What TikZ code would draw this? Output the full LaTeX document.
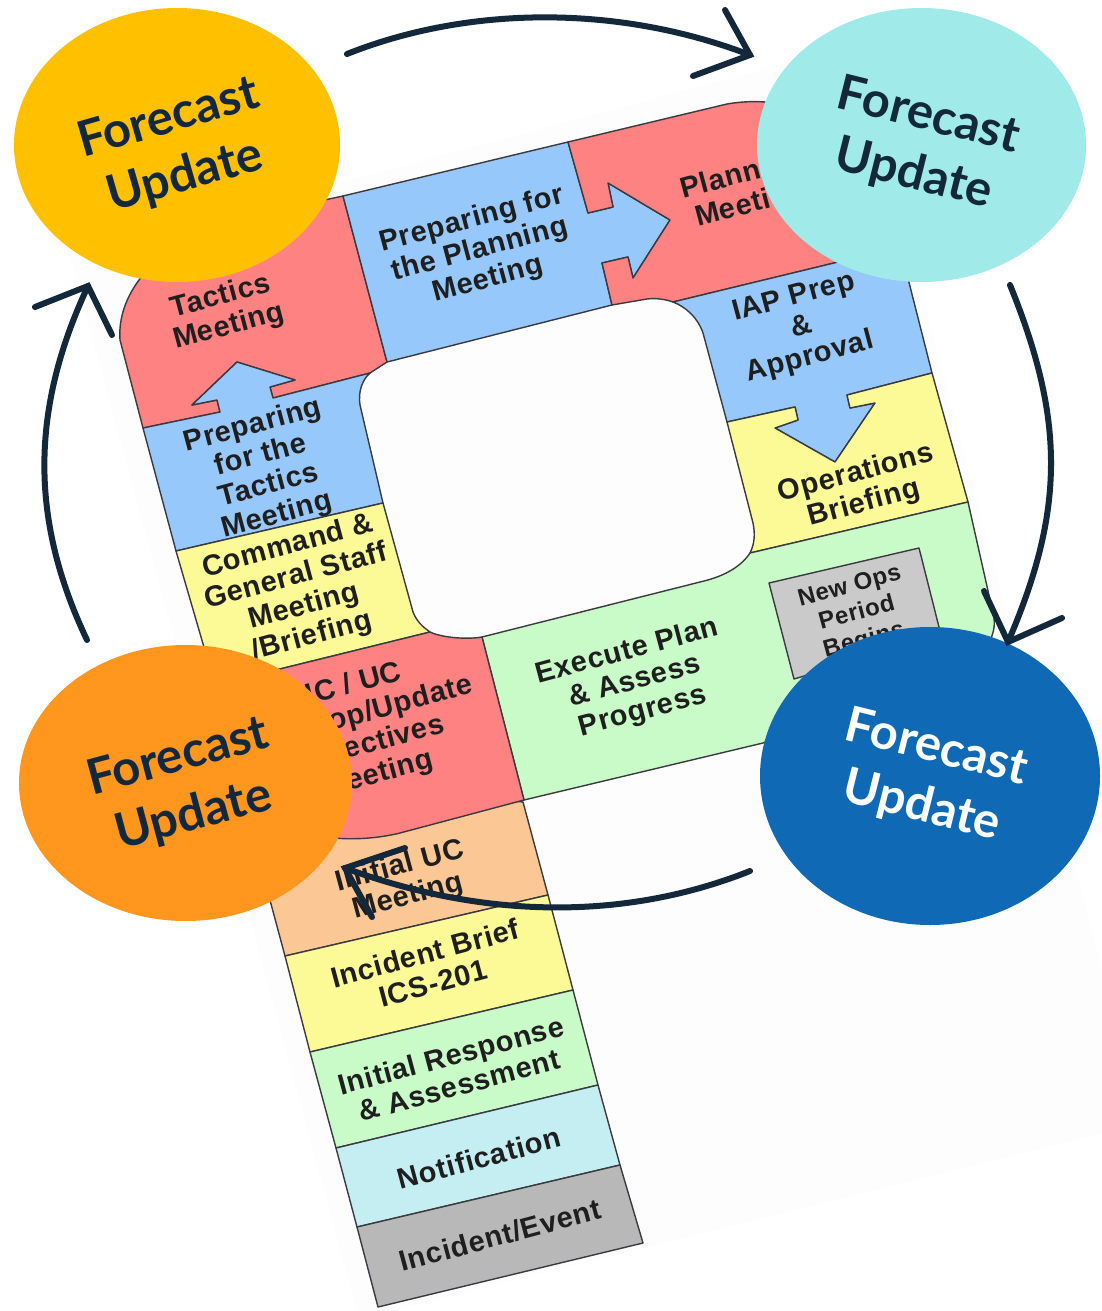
\documentclass[tikz,border=0pt]{standalone}
\usepackage{fontspec}
\setmainfont{Liberation Sans}
\newfontfamily\fcfont{Lato}
\newfontfamily\lblfont[LetterSpace=2.4]{Liberation Sans}
\definecolor{cred}{HTML}{FF8283}
\definecolor{cblue}{HTML}{97C8FB}
\definecolor{cyel}{HTML}{FBFA96}
\definecolor{cgreen}{HTML}{C8FBC8}
\definecolor{cpeach}{HTML}{FBC794}
\definecolor{ccyan}{HTML}{C4EEF2}
\definecolor{cgrey}{HTML}{B8B8B8}
\definecolor{cgreyb}{HTML}{CACACA}
\definecolor{cline}{HTML}{3A3A40}
\definecolor{cdark}{HTML}{14283C}
\definecolor{cgold}{HTML}{FFC000}
\definecolor{cteal}{HTML}{A0EAEA}
\definecolor{cnavy}{HTML}{0F69B4}
\definecolor{corange}{HTML}{FF961E}
\definecolor{cpage}{HTML}{FDFDFD}
\tikzset{
 region/.style={draw=cline,line width=1.4pt,line join=round},
 lbl/.style={align=center,rotate=15,font=\fontsize{29}{31}\selectfont\lblfont\bfseries,text=black!88},
 lblsmall/.style={align=center,rotate=15,font=\fontsize{24}{28}\selectfont\lblfont\bfseries,text=black!88},
 fc/.style={align=center,text=cdark,font=\fontsize{49}{60}\selectfont\fcfont\bfseries},
 loop/.style={draw=cdark,line width=6pt,line cap=round,line join=miter},
}
\begin{document}
\begin{tikzpicture}[x=1pt,y=-1pt]
\useasboundingbox (0,0) rectangle (1102,1311);
\fill[white] (0,0) rectangle (1102,1311);
% faint page of the rotated sheet
\fill[cpage] (70,255) -- (855,45) -- (1102,970) -- (1102,1133) -- (390,1311) -- (357,1311) -- cycle;
% regions
\path[region,fill=cred] (143,428) -- (120,340) .. controls (116,285) and (170,235) .. (240,218) -- (343,196) -- (387,362) -- (370,373) -- (273,398) -- (270,387) -- (295,380) -- (237,362) -- (192,405) -- (217,400) -- (220,412) -- cycle;
\path[region,fill=cblue] (143,428) -- (220,412) -- (217,400) -- (192,405) -- (237,362) -- (295,380) -- (270,387) -- (273,398) -- (370,373) .. controls (362,380) and (358,392) .. (360,405) -- (383,503) -- (176,551) -- cycle;
\path[region,fill=cblue] (343,196) -- (568,142) -- (588,213) -- (613,207) -- (608,183) -- (670,220) -- (633,278) -- (628,257) -- (602,263) -- (612,305) -- (387,362) -- cycle;
\path[region,fill=cred] (568,142) -- (727,104) .. controls (745,101) and (760,101) .. (775,103) .. controls (850,112) and (895,190) .. (908,282) -- (900,247) -- (673,302) .. controls (665,299) and (655,298) .. (647,299) -- (612,305) -- (602,263) -- (628,257) -- (633,278) -- (670,220) -- (608,183) -- (613,207) -- (588,213) -- cycle;
\path[region,fill=cblue] (673,302) -- (900,247) -- (932,373) -- (847,395) -- (850,408) -- (875,403) -- (835,462) -- (775,428) -- (798,420) -- (795,407) -- (727,422) -- (703,333) .. controls (698,318) and (686,307) .. (673,302) -- cycle;
\path[region,fill=cyel] (727,422) -- (795,407) -- (798,420) -- (775,428) -- (835,462) -- (875,403) -- (850,408) -- (847,395) -- (932,373) -- (968,502) -- (750,553) .. controls (755,543) and (755,533) .. (753,523) -- cycle;
\path[region,fill=cgreen] (482,637) -- (700,582) .. controls (722,577) and (740,568) .. (750,553) -- (968,502) -- (993,613) .. controls (996,625) and (994,635) .. (985,650) -- (763,743) -- (524,800) -- cycle;
\path[region,fill=cgreyb] (769,583) -- (919,548) -- (941,635) -- (794,679) -- cycle;
\path[region,fill=cyel] (176,551) -- (383,503) -- (413,612) .. controls (417,622) and (423,627) .. (430,632) -- (215,685) -- cycle;
\path[region,fill=cpeach] (523,802) -- (548,895) -- (285,956) -- (235,770) -- cycle;
\path[region,fill=cred] (430,632) .. controls (440,637) and (465,640) .. (482,637) -- (524,800) -- (400,833) .. controls (380,838) and (355,840) .. (335,838) .. controls (290,830) and (245,790) .. (235,765) -- (215,685) -- cycle;
\path[region,fill=cyel] (285,956) -- (548,895) -- (573,990) -- (310,1052) -- cycle;
\path[region,fill=cgreen] (310,1052) -- (573,990) -- (598,1085) -- (336,1148) -- cycle;
\path[region,fill=ccyan] (336,1148) -- (598,1085) -- (620,1165) -- (357,1227) -- cycle;
\path[region,fill=cgrey] (357,1227) -- (620,1165) -- (643,1243) -- (378,1307) -- cycle;
% labels
\node[lbl] (tactics) at (225,312) {Tactics\\Meeting};
\node[lbl] (prepplan) at (480,250) {Preparing for\\the Planning\\Meeting};
\node[lbl] (plan) at (747,190) {Planning\\Meeting};
\node[lbl] (iap) at (802,328) {IAP Prep\\\&\\Approval};
\node[lbl] (ops) at (860,489) {Operations\\Briefing};
\node[lbl] (preptac) at (265,471) {Preparing\\for the\\Tactics\\Meeting};
\node[lbl] (cgs) at (300,592) {Command \&\\General Staff\\Meeting\\/Briefing};
\node[lbl] (ic) at (366,730) {IC / UC\\Develop/Update\\Objectives\\Meeting};
\node[lbl] (exec) at (635,682) {Execute Plan\\\& Assess\\Progress};
\node[lblsmall] (newops) at (857,614) {New Ops\\Period\\Begins};
\node[lbl] (iuc) at (404,882) {Initial UC\\Meeting};
\node[lbl] (brief) at (429,968) {Incident Brief\\ICS-201};
\node[lbl] (resp) at (455,1070) {Initial Response\\\& Assessment};
\node[lbl] (notif) at (479,1158) {Notification};
\node[lbl] (event) at (500,1235) {Incident/Event};
% forecast blobs
\fill[cgold] (177,145) ellipse [x radius=163,y radius=137];
\fill[cteal] (921.5,145) ellipse [x radius=164.5,y radius=137];
\fill[cnavy] (930,776) ellipse [x radius=170,y radius=149];
\fill[corange] (185.5,783) ellipse [x radius=166.5,y radius=138];
\node[fc,rotate=16] (f1) at (177,148) {Forecast\\Update};
\node[fc,rotate=-14] (f2) at (921,146) {Forecast\\Update};
\node[fc,rotate=-14,text=white] (f3) at (929,778) {Forecast\\Update};
\node[fc,rotate=15] (f4) at (186,787) {Forecast\\Update};
% cycle arrows
\coordinate (a1s) at (347,54);\coordinate (a1t) at (750,55);
\coordinate (a2s) at (1010,285);\coordinate (a2t) at (1008,642);
\coordinate (a3s) at (750,871);\coordinate (a3t) at (345,868);
\coordinate (a4s) at (87,640);\coordinate (a4t) at (88,286);
\draw[loop] (a1s) .. controls (470,5) and (620,5) .. (a1t);
\draw[loop] (725,10) -- (a1t) -- (693,76);
\draw[loop] (a2s) .. controls (1065,420) and (1065,510) .. (a2t);
\draw[loop] (984,591) -- (a2t) -- (1062,618);
\draw[loop] (a3s) .. controls (640,915) and (500,925) .. (a3t);
\draw[loop] (405,848) -- (a3t) -- (372,917);
\draw[loop] (a4s) .. controls (30,520) and (30,410) .. (a4t);
\draw[loop] (35,307) -- (a4t) -- (112,335);
\end{tikzpicture}
\end{document}
